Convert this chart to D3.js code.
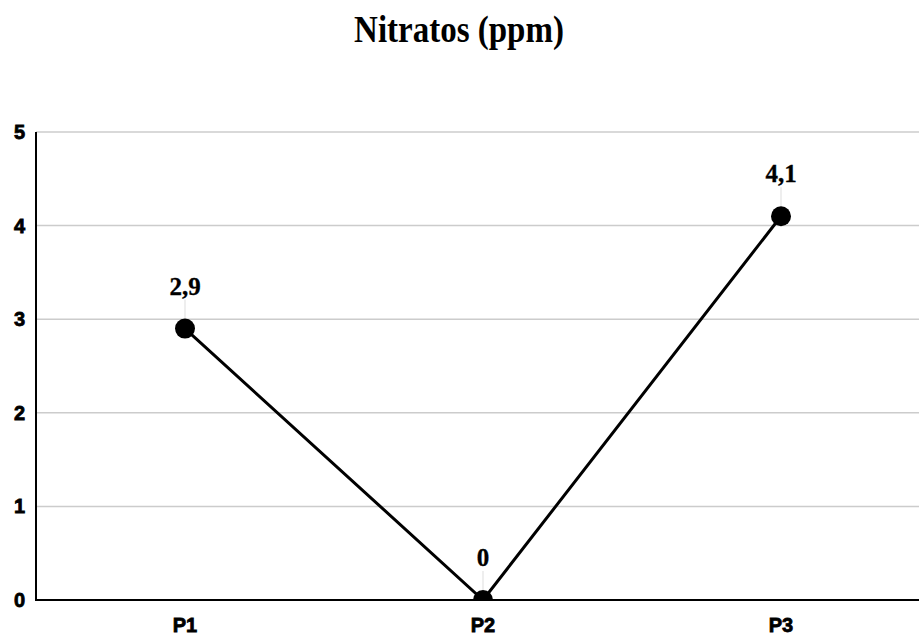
<!DOCTYPE html>
<html><head><meta charset="utf-8">
<script src="https://cdn.jsdelivr.net/npm/d3@7"></script>
<style>body{margin:0;background:#fff}svg{display:block}</style>
</head><body>
<script>
const categories = ["P1", "P2", "P3"];
const values = [2.9, 0, 4.1];
const valueLabels = ["2,9", "0", "4,1"];
const yTicks = [0, 1, 2, 3, 4, 5];
const title = "Nitratos (ppm)";

const W = 919, H = 635;
const svg = d3.select("body").append("svg").attr("width", W).attr("height", H);

const x = d3.scalePoint().domain(categories).range([36, 930]).padding(0.5);
const y = d3.scaleLinear().domain([0, 5]).range([600, 132]);

svg.append("text").attr("x", 459).attr("y", 42).attr("text-anchor", "middle")
  .attr("font-family", "Liberation Serif, Times New Roman, serif").attr("font-weight", "bold")
  .attr("font-size", 33).attr("transform", "translate(459,42) scale(1,1.15) translate(-459,-42)")
  .text(title);

// gridlines
svg.append("g").selectAll("line").data(yTicks.filter(d => d > 0)).join("line")
  .attr("x1", 36).attr("x2", W).attr("y1", d => y(d)).attr("y2", d => y(d))
  .attr("stroke", "#cccccc").attr("stroke-width", 1.5);

// y tick labels
svg.append("g").selectAll("text").data(yTicks).join("text")
  .attr("x", 25).attr("y", d => y(d) + 7).attr("text-anchor", "end")
  .attr("font-family", "Liberation Sans, Arial, sans-serif").attr("font-weight", "bold")
  .attr("font-size", 20).attr("stroke", "#000").attr("stroke-width", 0.8).text(d => d);

// x labels
svg.append("g").selectAll("text").data(categories).join("text")
  .attr("x", d => x(d.c ?? d)).attr("y", 632).attr("text-anchor", "middle")
  .attr("font-family", "Liberation Sans, Arial, sans-serif").attr("font-weight", "bold")
  .attr("font-size", 20).attr("stroke", "#000").attr("stroke-width", 0.8).text(d => d);

const data = categories.map((c, i) => ({c, v: values[i], l: valueLabels[i]}));

svg.append("defs").append("clipPath").attr("id", "clip")
  .append("rect").attr("x", 36).attr("y", 0).attr("width", W).attr("height", 600);

// leader lines
svg.append("g").selectAll("line").data(data).join("line")
  .attr("x1", d => x(d.c)).attr("x2", d => x(d.c))
  .attr("y1", d => y(d.v) - 29).attr("y2", d => y(d.v) - 9)
  .attr("stroke", "#dddddd").attr("stroke-width", 1);

const g = svg.append("g").attr("clip-path", "url(#clip)");
g.append("path").datum(data)
  .attr("d", d3.line().x(d => x(d.c)).y(d => y(d.v)))
  .attr("fill", "none").attr("stroke", "#000").attr("stroke-width", 3);
g.selectAll("ellipse").data(data).join("ellipse")
  .attr("cx", d => x(d.c)).attr("cy", d => y(d.v)).attr("rx", 10).attr("ry", 10)
  .attr("fill", "#000");

// axes
svg.append("line").attr("x1", 36).attr("x2", 36).attr("y1", 132).attr("y2", 601)
  .attr("stroke", "#000").attr("stroke-width", 2);
svg.append("line").attr("x1", 35).attr("x2", W).attr("y1", 600).attr("y2", 600)
  .attr("stroke", "#000").attr("stroke-width", 2);

// value labels
svg.append("g").selectAll("text").data(data).join("text")
  .attr("x", d => x(d.c)).attr("y", d => y(d.v) - 34).attr("text-anchor", "middle")
  .attr("font-family", "Liberation Serif, Times New Roman, serif").attr("font-weight", "bold")
  .attr("font-size", 25).attr("stroke", "#000").attr("stroke-width", 0.3).text(d => d.l);
</script>
</body></html>
